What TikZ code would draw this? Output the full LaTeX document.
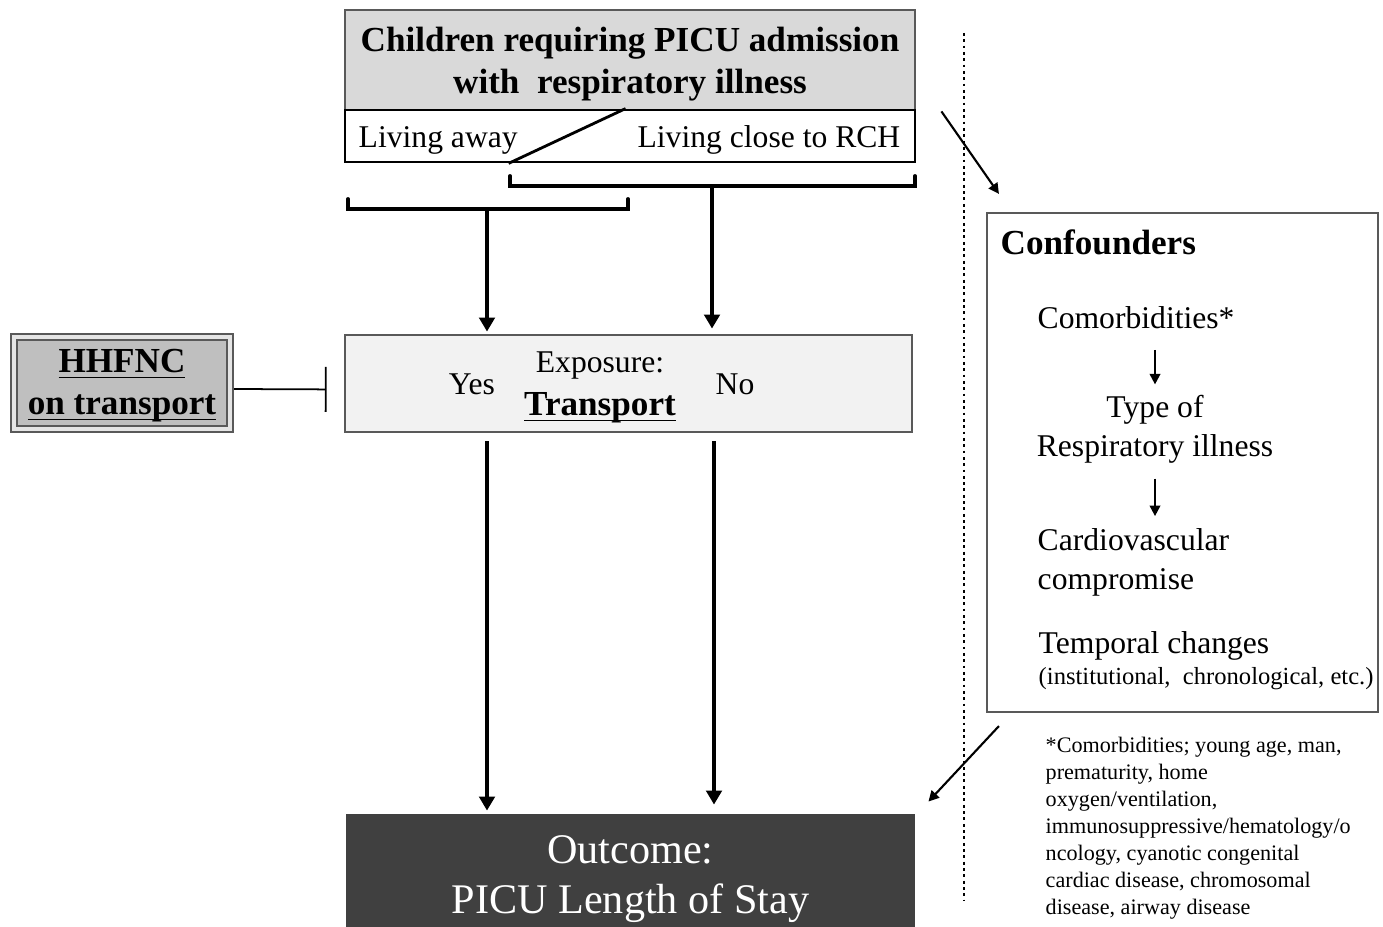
\documentclass[tikz,border=0pt]{standalone}
\usepackage{fontspec}
\setmainfont{Liberation Serif}
\usetikzlibrary{arrows.meta}
\definecolor{lgray}{RGB}{217,217,217}
\definecolor{vlgray}{RGB}{242,242,242}
\definecolor{mgray}{RGB}{191,191,191}
\definecolor{dgray}{RGB}{64,64,64}
\definecolor{edgegray}{RGB}{89,89,89}
\newcommand{\undl}[1]{\underline{\smash{#1}}}
\pgfdeclarelayer{edgelayer}
\pgfdeclarelayer{nodelayer}
\pgfsetlayers{edgelayer,nodelayer,main}
\tikzstyle{box}=[rectangle, draw=edgegray, line width=0.8pt, inner sep=0pt]
\tikzstyle{population}=[box, fill=lgray, minimum width=5.70cm, minimum height=1.00cm]
\tikzstyle{living}=[box, draw=black, fill=white, minimum width=5.70cm, minimum height=0.52cm]
\tikzstyle{exposure}=[box, fill=vlgray, minimum width=5.67cm, minimum height=0.97cm]
\tikzstyle{intervention}=[box, fill=mgray, draw=edgegray, line width=0.6pt, double=white!80!gray, double distance=1pt, minimum width=2.16cm, minimum height=0.92cm]
\tikzstyle{outcome}=[box, draw=dgray, fill=dgray, minimum width=5.67cm, minimum height=1.12cm]
\tikzstyle{confounders}=[box, line width=0.6pt, minimum width=3.91cm, minimum height=4.99cm]
\tikzstyle{txt}=[inner sep=0pt, font=\fontsize{9}{11}\selectfont]
\tikzstyle{boldtxt}=[inner sep=0pt, align=center, font=\fontsize{10}{12}\selectfont\bfseries]
\tikzstyle{listitem}=[txt, anchor=west, align=left]
\tikzstyle{note}=[inner sep=0pt, anchor=west, align=left, font=\fontsize{6.3}{7.7}\selectfont]
\tikzstyle{arrow}=[-{Triangle[length=4pt,width=4.4pt]}, draw=black, line width=1.1pt]
\tikzstyle{thinarrow}=[-{Triangle[length=3pt,width=3pt]}, draw=black, line width=0.6pt]
\tikzstyle{bracket}=[-, draw=black, line width=1.1pt, line cap=round]
\tikzstyle{blocker}=[-{Bar[width=0.45cm]}, draw=black, line width=0.5pt]

\begin{document}
\begin{tikzpicture}
            \useasboundingbox (0, 0) rectangle (13.83, 9.27);
            \begin{pgfonlayer}{nodelayer}
                \node [style=population] (children) at (6.30, 8.67) {};
                \node [style=boldtxt] (childrentext) at (6.30, 8.625) {Children requiring PICU admission\\with \ respiratory illness};
                \node [style=living] (living) at (6.30, 7.91) {};
                \draw [line width=0.8pt] ([xshift=1.65cm]living.south west) -- ([xshift=2.82cm]living.north west);
                \node [style=txt, anchor=west] (away) at (3.58, 7.87) {Living away};
                \node [style=txt, anchor=east] (close) at (9.01, 7.87) {Living close to RCH};
                \node [style=exposure] (transport) at (6.285, 5.435) {};
                \node [style=txt] (yes) at (4.72, 5.425) {Yes};
                \node [style=txt] (exposurelabel) at (6.00, 5.61) {Exposure:};
                \node [style=boldtxt] (transportlabel) at (6.00, 5.08) {\undl{Transport}};
                \node [style=txt] (no) at (7.35, 5.425) {No};
                \node [style=intervention] (hhfnc) at (1.22, 5.44) {};
                \node [style=boldtxt] (hhfnctext) at (1.22, 5.30) {\undl{HHFNC}\\\undl{on transport}};
                \node [style=outcome] (outcome) at (6.305, 0.56) {};
                \node [inner sep=0pt, align=center, text=white, font=\fontsize{12}{14.2}\selectfont] (outcometext) at (6.305, 0.475) {Outcome:\\PICU Length of Stay};
                \node [style=confounders] (conf) at (11.825, 4.645) {};
                \node [style=listitem, font=\fontsize{10}{12}\selectfont\bfseries] (conftitle) at (10.00, 6.85) {Confounders};
                \node [style=listitem] (comorb) at (10.37, 6.09) {Comorbidities*};
                \node [style=txt, align=center] (resp) at (11.55, 4.98) {Type of\\Respiratory illness};
                \node [style=listitem] (cardio) at (10.37, 3.645) {Cardiovascular\\compromise};
                \node [style=listitem] (temporal) at (10.38, 2.81) {Temporal changes};
                \node [style=listitem, font=\fontsize{7}{8}\selectfont] (temporalnote) at (10.38, 2.48) {(institutional, \ chronological, etc.)};
                \node [style=note] (footnote) at (10.45, 0.99) {*Comorbidities; young age, man,\\prematurity, home\\oxygen/ventilation,\\immunosuppressive/hematology/o\\ncology, cyanotic congenital\\cardiac disease, chromosomal\\disease, airway disease};
                \coordinate (awaybr) at (4.87, 7.18);
                \coordinate (closebr) at (7.12, 7.41);
                \coordinate (dottop) at (9.64, 8.94);
                \coordinate (dotbottom) at (9.64, 0.27);
            \end{pgfonlayer}
            \begin{pgfonlayer}{edgelayer}
                \draw [style=bracket] (3.48, 7.28) |- (6.28, 7.18) -- (6.28, 7.28);
                \draw [style=bracket] (5.10, 7.51) |- (9.15, 7.41) -- (9.15, 7.51);
                \draw [style=arrow, shorten >=0.02cm] (awaybr) to (awaybr |- transport.north);
                \draw [style=arrow, shorten >=0.05cm] (closebr) to (closebr |- transport.north);
                \draw [style=arrow, shorten <=0.08cm, shorten >=0.03cm] (transport.south -| awaybr) to (outcome.north -| awaybr);
                \draw [style=arrow, shorten <=0.08cm, shorten >=0.09cm] (transport.south -| 7.14, 0) to (outcome.north -| 7.14, 0);
                \draw [style=blocker, shorten >=0.17cm] ([yshift=-0.06cm]hhfnc.east) to ([yshift=-0.06cm]transport.west);
                \draw [densely dotted, line width=0.8pt] (dottop) to (dotbottom);
                \draw [style=thinarrow] ([xshift=0.25cm]children.south east) to ([shift={(0.13,0.18)}]conf.north west);
                \draw [style=thinarrow] ([shift={(0.13,-0.13)}]conf.south west) to ([shift={(0.13,0.12)}]outcome.north east);
                \draw [style=thinarrow, shorten <=0.2cm, shorten >=0.1cm] (resp.north |- comorb.south) to (resp.north);
                \draw [style=thinarrow, shorten <=0.15cm, shorten >=0.12cm] (resp.south) to (resp.south |- cardio.north);
            \end{pgfonlayer}
        \end{tikzpicture}
\end{document}
